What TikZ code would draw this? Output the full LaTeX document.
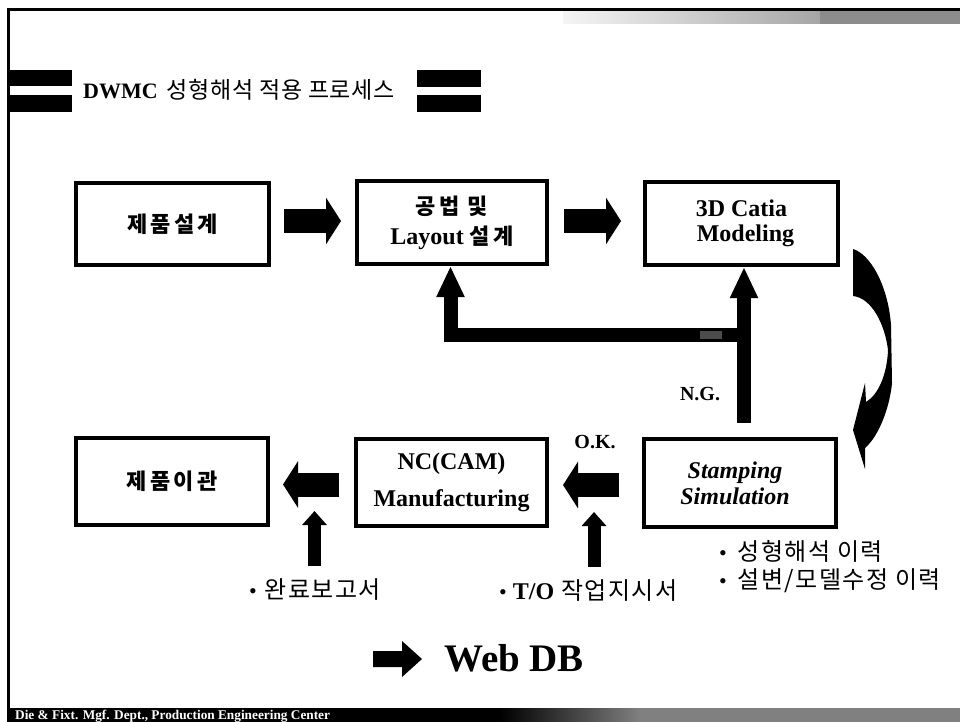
\documentclass[tikz,border=0pt]{standalone}
\usepackage{fontspec}
\setmainfont{Liberation Serif}
\newfontfamily\kr[LetterSpace=15]{Noto Sans CJK KR}
\newfontfamily\krn[LetterSpace=6]{Noto Sans CJK KR}
\newfontfamily\krt[LetterSpace=3]{Noto Sans CJK KR}
\usetikzlibrary{arrows.meta}
\newcommand{\krbox}{\kr\fontsize{22}{28}\selectfont}
\tikzset{
  procbox/.style={draw=black,line width=4pt,fill=white,align=center,inner sep=0pt,font=\bfseries\fontsize{24}{#1}\selectfont},
  hflow/.style={draw=black,line width=24pt,-{Triangle[length=15pt,width=46pt]}},
  upsmall/.style={draw=black,line width=13pt,-{Triangle[length=14pt,width=24pt]}},
  upbig/.style={draw=black,line width=14pt,-{Triangle[length=31pt,width=26pt]}},
  note/.style={font=\krn\fontsize{24}{27}\selectfont,anchor=west,inner sep=0pt},
  tag/.style={font=\bfseries\fontsize{20}{24}\selectfont,inner sep=0pt},
  bar/.style={fill=black,draw=none}
}
\newcommand{\bul}{{\rmfamily\fontsize{22}{22}\selectfont•}\hspace{6pt}}
\begin{document}
\begin{tikzpicture}[x=1pt,y=-1pt]
\useasboundingbox (0,0) rectangle (960,722);
\fill[white] (0,0) rectangle (960,722);
% header dither
\shade[left color=black!4,right color=black!35,shading angle=90] (563,11) rectangle (820,24);
\fill[black!45] (820,11) rectangle (960,24);
% footer
\fill[black] (7,708) rectangle (500,722);
\shade[left color=black,right color=black!50] (500,708) rectangle (640,722);
\fill[black!50] (640,708) rectangle (960,722);
% frame
\fill[black] (7,8) rectangle (960,11);
\fill[black] (7,8) rectangle (10,712);
% title bars
\fill[bar] (7,70) rectangle (72,86);
\fill[bar] (7,95) rectangle (72,112);
\fill[bar] (417,70) rectangle (481,87);
\fill[bar] (417,95) rectangle (481,112);
\node[anchor=west,inner sep=0pt,font=\fontsize{22}{26}\selectfont] (title) at (83,90) {\textbf{DWMC}\hspace{9pt}{\krt\fontsize{23}{26}\selectfont 성형해석 적용 프로세스}};
% boxes
\node[procbox=28,minimum width=193pt,minimum height=82pt] (a) at (172.5,224) {\krbox 제품설계};
\node[procbox=30,minimum width=190pt,minimum height=83pt] (b) at (452,222.5) {\krbox 공법 및\\Layout {\krbox 설계}};
\node[procbox=25,minimum width=193pt,minimum height=83pt] (c) at (741.5,223.5) {3D Catia\\\hspace*{8pt}Modeling};
\node[procbox=28,minimum width=192pt,minimum height=87pt] (d) at (172,481.5) {\krbox 제품이관};
\node[procbox=37,minimum width=191pt,minimum height=87pt] (e) at (451.5,482.5) {NC(CAM)\\Manufacturing};
\node[procbox=26,minimum width=192pt,minimum height=88pt] (f) at (740,483) {\itshape Stamping\hspace*{10pt}\\\itshape Simulation\hspace*{10pt}};
% flow arrows
\draw[hflow] ([xshift=13pt,yshift=3pt]a.east) -- ([xshift=-14pt,yshift=1.5pt]b.west);
\draw[hflow] ([xshift=15pt,yshift=1.5pt]b.east) -- ([xshift=-22pt,yshift=2.5pt]c.west);
\draw[hflow] ([xshift=-15pt,yshift=-2pt]e.west) -- ([xshift=13pt,yshift=-3pt]d.east);
\draw[hflow] ([xshift=-23pt,yshift=-2pt]f.west) -- ([xshift=14pt,yshift=-2.5pt]e.east);
% feedback
\coordinate (fbot) at (744,423);
\coordinate (jr) at (744,335);
\coordinate (jl) at (450.5,335);
\draw[upbig] (fbot) -- (fbot |- c.south);
\draw[upbig,line join=miter] ([xshift=-7pt]jr) -- (jl) -- (jl |- b.south);
\fill[black!70] (700,331) rectangle (722,339);
% curved arrow
\fill[black] (853,249) .. controls (870,254) and (888,285) .. (891,325) -- (892,383)
  .. controls (890,405) and (880,435) .. (865,448) -- (865,469) -- (853,430) -- (865,383) -- (866,402)
  .. controls (878,395) and (887,375) .. (888,350) .. controls (885,325) and (872,298) .. (853,296) -- cycle;
% up arrows
\coordinate (u1) at (314.5,566);
\coordinate (u2) at (594,567);
\draw[upsmall] (u1) -- ++(0,-55);
\draw[upsmall] (u2) -- ++(0,-55);
% labels
\node[tag] (ng) at (700,394) {N.G.};
\node[tag] (ok) at (595,442) {O.K.};
\node[note] (n1) at (249,590) {\bul\hspace{2pt}완료보고서};
\node[note] (n2) at (499,591) {\bul{\rmfamily\bfseries T/O} 작업지시서};
\node[note] (n3) at (719,551) {\bul\hspace{5pt}성형해석 이력};
\node[note] (n4) at (719,581) {\bul\hspace{5pt}설변/모델수정 이력};
% web db
\fill[black] (373,651) -- (402,651) -- (402,641) -- (422,659) -- (402,677) -- (402,667) -- (373,667) -- cycle;
\node[anchor=west,inner sep=0pt,font=\bfseries\fontsize{39}{44}\selectfont] (web) at (444,658) {Web DB};
% footer text
\node[anchor=west,inner sep=0pt,text=white,font=\bfseries\fontsize{13.3}{15}\selectfont] (foot) at (15,716) {Die \& Fixt. Mgf. Dept., Production Engineering Center};
\end{tikzpicture}
\end{document}
